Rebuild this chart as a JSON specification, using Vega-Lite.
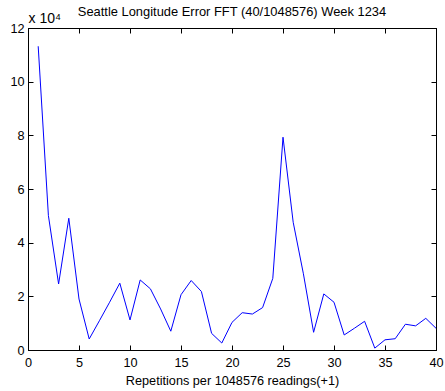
{
  "$schema": "https://vega.github.io/schema/vega-lite/v6.json",
  "autosize": {"type": "none"},
  "padding": {"left": 28, "top": 28, "right": 9, "bottom": 41},
  "width": 408,
  "height": 322,
  "background": "white",
  "title": {
    "text": "Seattle Longitude Error FFT (40/1048576) Week 1234",
    "font": "Liberation Sans",
    "fontSize": 12.9,
    "fontWeight": "normal",
    "color": "#000000",
    "anchor": "middle",
    "frame": "group",
    "baseline": "alphabetic",
    "offset": -18
  },
  "config": {
    "view": {"stroke": "#000000", "strokeWidth": 1},
    "axis": {
      "grid": false,
      "domainColor": "#000000",
      "tickColor": "#000000",
      "labelColor": "#000000",
      "titleColor": "#000000",
      "labelFont": "Liberation Sans",
      "titleFont": "Liberation Sans",
      "labelFontSize": 12.7,
      "titleFontSize": 12.7,
      "titleFontWeight": "normal",
      "tickSize": -5,
      "labelFlush": false,
      "labelOverlap": false
    }
  },
  "data": {
    "values": [
      {"freq": 1, "err": 113200},
      {"freq": 2, "err": 50100},
      {"freq": 3, "err": 24600},
      {"freq": 4, "err": 49100},
      {"freq": 5, "err": 19000},
      {"freq": 6, "err": 4100},
      {"freq": 7, "err": 10900},
      {"freq": 8, "err": 17800},
      {"freq": 9, "err": 24900},
      {"freq": 10, "err": 11200},
      {"freq": 11, "err": 26100},
      {"freq": 12, "err": 22800},
      {"freq": 13, "err": 15300},
      {"freq": 14, "err": 7000},
      {"freq": 15, "err": 20600},
      {"freq": 16, "err": 25900},
      {"freq": 17, "err": 21800},
      {"freq": 18, "err": 6200},
      {"freq": 19, "err": 2600},
      {"freq": 20, "err": 10300},
      {"freq": 21, "err": 13900},
      {"freq": 22, "err": 13400},
      {"freq": 23, "err": 15800},
      {"freq": 24, "err": 26700},
      {"freq": 25, "err": 79300},
      {"freq": 26, "err": 47600},
      {"freq": 27, "err": 28400},
      {"freq": 28, "err": 6600},
      {"freq": 29, "err": 20900},
      {"freq": 30, "err": 17800},
      {"freq": 31, "err": 5600},
      {"freq": 32, "err": 8100},
      {"freq": 33, "err": 10700},
      {"freq": 34, "err": 700},
      {"freq": 35, "err": 3800},
      {"freq": 36, "err": 4200},
      {"freq": 37, "err": 9600},
      {"freq": 38, "err": 9000},
      {"freq": 39, "err": 11800},
      {"freq": 40, "err": 8100}
    ]
  },
  "layer": [
    {
      "mark": {"type": "line", "color": "#0000ff", "strokeWidth": 1},
      "encoding": {
        "x": {
          "field": "freq",
          "type": "quantitative",
          "scale": {"domain": [0, 40], "nice": false, "zero": false},
          "axis": {
            "orient": "bottom",
            "values": [0, 5, 10, 15, 20, 25, 30, 35, 40],
            "title": "Repetitions per 1048576 readings(+1)",
            "labelPadding": 11,
            "titlePadding": 6
          }
        },
        "y": {
          "field": "err",
          "type": "quantitative",
          "scale": {"domain": [0, 120000], "nice": false},
          "axis": {
            "orient": "left",
            "values": [0, 20000, 40000, 60000, 80000, 100000, 120000],
            "labelExpr": "format(datum.value / 10000, 'd')",
            "labelPadding": 9,
            "title": "x 10⁴",
            "titleFontSize": 14,
            "titleAngle": 0,
            "titleAlign": "left",
            "titleBaseline": "alphabetic",
            "titleX": 0,
            "titleY": -6
          }
        }
      }
    },
    {
      "mark": {"type": "line", "strokeOpacity": 0},
      "encoding": {
        "x": {
          "field": "freq",
          "type": "quantitative",
          "scale": {"domain": [0, 40], "nice": false, "zero": false},
          "axis": {
            "orient": "top",
            "values": [0, 5, 10, 15, 20, 25, 30, 35, 40],
            "labels": false,
            "title": null
          }
        },
        "y": {
          "field": "err",
          "type": "quantitative",
          "scale": {"domain": [0, 120000], "nice": false},
          "axis": {
            "orient": "right",
            "values": [0, 20000, 40000, 60000, 80000, 100000, 120000],
            "labels": false,
            "title": null
          }
        }
      }
    }
  ],
  "resolve": {"scale": {"x": "independent", "y": "independent"}}
}
